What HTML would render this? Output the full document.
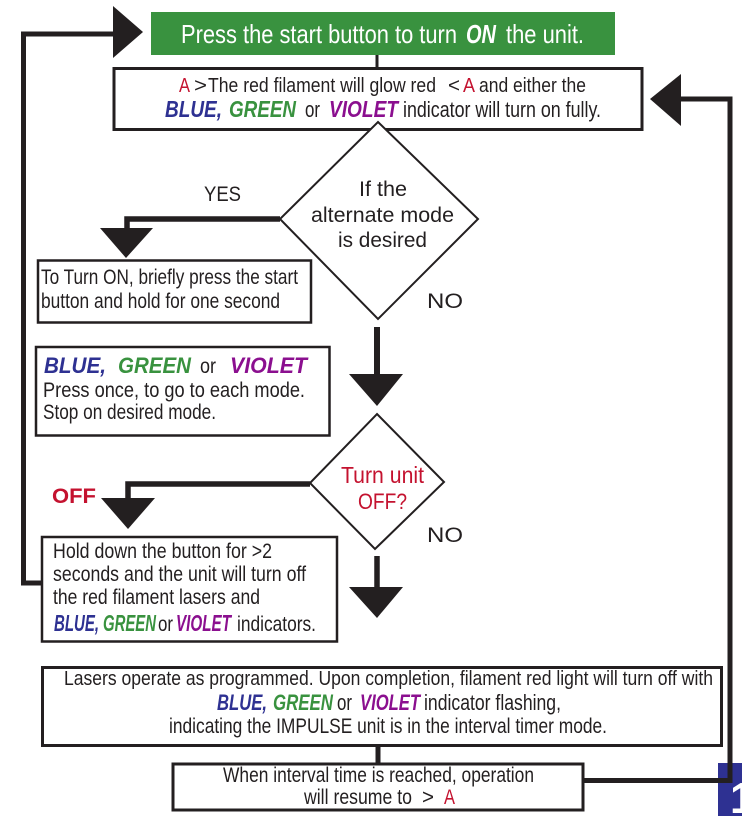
<!DOCTYPE html>
<html><head><meta charset="utf-8">
<style>
html,body{margin:0;padding:0;background:#fff;width:742px;height:816px;overflow:hidden}
svg{display:block}
text{font-family:"Liberation Sans",sans-serif;fill:#231f20;font-size:20px}
.b{fill:#2e3192;font-weight:bold;font-style:italic;font-size:22px}
.g{fill:#39923f;font-weight:bold;font-style:italic;font-size:22px}
.v{fill:#8b0f8f;font-weight:bold;font-style:italic;font-size:22px}
.r{fill:#c4122f}
.w{fill:#fff;font-size:26px}
.m{font-size:21px}
.l{font-size:22px}
.h{font-size:23px}
</style></head><body>
<svg width="742" height="816" viewBox="0 0 742 816" xmlns="http://www.w3.org/2000/svg">
<rect x="718" y="763" width="24" height="53" fill="#2e3192"/>
<text x="730" y="813" style="font-size:44px;font-weight:bold;fill:#fff">1</text>
<rect x="151" y="12" width="464" height="43" fill="#39923f"/>
<g fill="none" stroke="#231f20">
<path d="M377 55V69" stroke-width="3"/>
<rect x="114" y="68.500" width="528" height="61" stroke-width="3" fill="#fff"/>
<path d="M114 34H23.500V583H42" stroke-width="5"/>
<path d="M583 780.500H730V99H680" stroke-width="5"/>
<path d="M280 219H127V230" stroke-width="5.500"/>
<path d="M377 327V378" stroke-width="6"/>
<path d="M310 484H128V500" stroke-width="5.500"/>
<path d="M377 556V590" stroke-width="5.500"/>
<path d="M378 746V764" stroke-width="5"/>
<rect x="38" y="260.500" width="273" height="62" stroke-width="2.500" fill="#fff"/>
<rect x="36" y="347" width="293.500" height="88.500" stroke-width="2.500" fill="#fff"/>
<rect x="42" y="537" width="295" height="104.500" stroke-width="2.500" fill="#fff"/>
<rect x="42.500" y="667.500" width="679" height="78" stroke-width="3" fill="#fff"/>
<rect x="173" y="764" width="410" height="46" stroke-width="3" fill="#fff"/>
<path d="M378 122L478 219L378 319L280 219Z" stroke-width="2" fill="#fff"/>
<path d="M377 414L444 482L375 549L310 483Z" stroke-width="2" fill="#fff"/>
</g>
<g fill="#231f20">
<path d="M113 6V58L143 32Z"/>
<path d="M681 74V126L650 99Z"/>
<path d="M100 228H153L126 258Z"/>
<path d="M349 374H403L377 406Z"/>
<path d="M101 498H155L128 529Z"/>
<path d="M349 587H403L377 618Z"/>
</g>

<text class="w" x="181" y="43" textLength="276" lengthAdjust="spacingAndGlyphs">Press the start button to turn</text>
<text class="w" x="466" y="43" style="font-weight:bold;font-style:italic" textLength="30" lengthAdjust="spacingAndGlyphs">ON</text>
<text class="w" x="506" y="43" textLength="78" lengthAdjust="spacingAndGlyphs">the unit.</text>

<text class="r" x="179" y="92" textLength="11" lengthAdjust="spacingAndGlyphs">A</text>
<text x="194" y="92" textLength="13" lengthAdjust="spacingAndGlyphs">&gt;</text>
<text x="208" y="92" textLength="228" lengthAdjust="spacingAndGlyphs">The red filament will glow red</text>
<text x="448" y="92" textLength="12" lengthAdjust="spacingAndGlyphs">&lt;</text>
<text class="r" x="463" y="92" textLength="12" lengthAdjust="spacingAndGlyphs">A</text>
<text x="479" y="92" textLength="107" lengthAdjust="spacingAndGlyphs">and either the</text>
<text class="b" x="165" y="117" style="font-size:23px" textLength="57" lengthAdjust="spacingAndGlyphs">BLUE,</text>
<text class="g" x="229" y="117" style="font-size:23px" textLength="67" lengthAdjust="spacingAndGlyphs">GREEN</text>
<text class="l" x="305" y="117" textLength="15" lengthAdjust="spacingAndGlyphs">or</text>
<text class="v" x="329" y="117" style="font-size:23px" textLength="69" lengthAdjust="spacingAndGlyphs">VIOLET</text>
<text class="l" x="403" y="117" textLength="198" lengthAdjust="spacingAndGlyphs">indicator will turn on fully.</text>

<text class="m" x="359" y="196" textLength="48" lengthAdjust="spacingAndGlyphs">If the</text>
<text class="m" x="311" y="222" textLength="143" lengthAdjust="spacingAndGlyphs">alternate mode</text>
<text class="m" x="338" y="247" textLength="89" lengthAdjust="spacingAndGlyphs">is desired</text>
<text class="m" x="204" y="201" textLength="37" lengthAdjust="spacingAndGlyphs">YES</text>
<text class="m" x="427" y="308" textLength="36" lengthAdjust="spacingAndGlyphs">NO</text>

<text class="m" x="41" y="284" textLength="257" lengthAdjust="spacingAndGlyphs">To Turn ON, briefly press the start</text>
<text class="m" x="41" y="308" textLength="239" lengthAdjust="spacingAndGlyphs">button and hold for one second</text>

<text class="b" x="44" y="373" textLength="62" lengthAdjust="spacingAndGlyphs">BLUE,</text>
<text class="g" x="118" y="373" textLength="73" lengthAdjust="spacingAndGlyphs">GREEN</text>
<text class="m" x="200" y="373" textLength="16" lengthAdjust="spacingAndGlyphs">or</text>
<text class="v" x="230" y="373" textLength="77" lengthAdjust="spacingAndGlyphs">VIOLET</text>
<text class="m" x="43" y="397" textLength="262" lengthAdjust="spacingAndGlyphs">Press once, to go to each mode.</text>
<text class="m" x="43" y="419" textLength="173" lengthAdjust="spacingAndGlyphs">Stop on desired mode.</text>

<text class="r h" x="341" y="483" textLength="83" lengthAdjust="spacingAndGlyphs">Turn unit</text>
<text class="r l" x="358" y="509" textLength="49" lengthAdjust="spacingAndGlyphs">OFF?</text>
<text class="r m" x="52" y="503" style="font-weight:bold" textLength="44" lengthAdjust="spacingAndGlyphs">OFF</text>
<text class="m" x="427" y="542" textLength="36" lengthAdjust="spacingAndGlyphs">NO</text>

<text class="m" x="53" y="558" textLength="219" lengthAdjust="spacingAndGlyphs">Hold down the button for &gt;2</text>
<text class="m" x="53" y="581" textLength="253" lengthAdjust="spacingAndGlyphs">seconds and the unit will turn off</text>
<text class="m" x="53" y="604" textLength="207" lengthAdjust="spacingAndGlyphs">the red filament lasers and</text>
<text class="b" x="54" y="631" style="font-size:23px" textLength="45" lengthAdjust="spacingAndGlyphs">BLUE,</text>
<text class="g" x="103" y="631" style="font-size:23px" textLength="53" lengthAdjust="spacingAndGlyphs">GREEN</text>
<text class="m" x="158" y="631" textLength="15" lengthAdjust="spacingAndGlyphs">or</text>
<text class="v" x="176" y="631" style="font-size:23px" textLength="55" lengthAdjust="spacingAndGlyphs">VIOLET</text>
<text class="m" x="237" y="631" textLength="79" lengthAdjust="spacingAndGlyphs">indicators.</text>

<text x="64" y="685" textLength="649" lengthAdjust="spacingAndGlyphs">Lasers operate as programmed. Upon completion, filament red light will turn off with</text>
<text class="b" x="217" y="710" textLength="50" lengthAdjust="spacingAndGlyphs">BLUE,</text>
<text class="g" x="273" y="710" textLength="60" lengthAdjust="spacingAndGlyphs">GREEN</text>
<text class="l" x="337" y="710" textLength="15" lengthAdjust="spacingAndGlyphs">or</text>
<text class="v" x="360" y="710" textLength="60" lengthAdjust="spacingAndGlyphs">VIOLET</text>
<text class="l" x="424" y="710" textLength="137" lengthAdjust="spacingAndGlyphs">indicator flashing,</text>
<text class="m" x="169" y="733" textLength="438" lengthAdjust="spacingAndGlyphs">indicating the IMPULSE unit is in the interval timer mode.</text>

<text class="m" x="223" y="782" textLength="311" lengthAdjust="spacingAndGlyphs">When interval time is reached, operation</text>
<text class="m" x="304" y="804" textLength="108" lengthAdjust="spacingAndGlyphs">will resume to</text>
<text class="m" x="422" y="804" textLength="12" lengthAdjust="spacingAndGlyphs">&gt;</text>
<text class="r m" x="444" y="804" textLength="11" lengthAdjust="spacingAndGlyphs">A</text>
</svg>
</body></html>
